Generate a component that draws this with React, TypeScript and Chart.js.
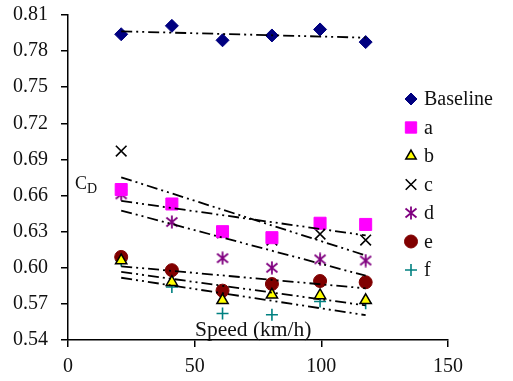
import React, { useEffect, useRef } from "react";
import { Chart, registerables } from "chart.js";
import { drawPoint } from "chart.js/helpers";

Chart.register(...registerables);

// ---- data ----
const speeds = [21, 41, 61, 80.5, 99.5, 117.5];
const baseline = [0.794, 0.801, 0.789, 0.793, 0.798, 0.7875];
const seriesA = [0.665, 0.653, 0.63, 0.625, 0.637, 0.636];
const seriesB = [0.606, 0.588, 0.573, 0.5775, 0.577, 0.573];
const seriesC = [0.697, 0.653, 0.629, 0.623, 0.628, 0.623];
const seriesD = [0.661, 0.638, 0.608, 0.6, 0.607, 0.606];
const seriesE = [0.609, 0.598, 0.581, 0.5865, 0.589, 0.588];
const seriesF = [0.606, 0.584, 0.562, 0.561, 0.572, 0.5705];
const seriesNames = ["Baseline", "a", "b", "c", "d", "e", "f"];
const xTickValues = [0, 50, 100, 150];
const yTickValues = [0.54, 0.57, 0.6, 0.63, 0.66, 0.69, 0.72, 0.75, 0.78, 0.81];
const yAxisLabel = "C";
const yAxisSub = "D";
const xAxisLabel = "Speed (km/h)";

const FONT = '"Liberation Serif", "Times New Roman", serif';

function makeAsterisk(color: string) {
  const c = document.createElement("canvas");
  c.width = 14;
  c.height = 14;
  const g = c.getContext("2d")!;
  g.strokeStyle = color;
  g.lineWidth = 1.8;
  g.beginPath();
  g.moveTo(7, 0.5);
  g.lineTo(7, 13.5);
  g.moveTo(1.5, 2.5);
  g.lineTo(12.5, 11.5);
  g.moveTo(12.5, 2.5);
  g.lineTo(1.5, 11.5);
  g.stroke();
  return c;
}

function fitLine(xs: number[], ys: number[]) {
  const n = xs.length;
  const mx = xs.reduce((s, v) => s + v, 0) / n;
  const my = ys.reduce((s, v) => s + v, 0) / n;
  let sxy = 0;
  let sxx = 0;
  for (let i = 0; i < n; i++) {
    sxy += (xs[i] - mx) * (ys[i] - my);
    sxx += (xs[i] - mx) * (xs[i] - mx);
  }
  const slope = sxy / sxx;
  const x0 = xs[0];
  const x1 = xs[n - 1];
  return [
    { x: x0, y: my + slope * (x0 - mx) },
    { x: x1, y: my + slope * (x1 - mx) },
  ];
}

const legendPlugin = {
  id: "customLegend",
  afterDraw(chart: any) {
    const ctx = chart.ctx;
    const items = chart.data.datasets.filter((d: any) => d.inLegend);
    const x0 = chart.chartArea.right - 37;
    items.forEach((ds: any, i: number) => {
      const y = 99 + i * 28.5;
      ctx.save();
      ctx.fillStyle = ds.pointBackgroundColor;
      ctx.strokeStyle = ds.pointBorderColor;
      ctx.lineWidth = ds.pointBorderWidth;
      drawPoint(
        ctx,
        {
          pointStyle: ds.pointStyle,
          rotation: 0,
          radius: ds.legendRadius,
          borderWidth: ds.pointBorderWidth,
        } as any,
        x0,
        y
      );
      ctx.fillStyle = "#111";
      ctx.font = `20px ${FONT}`;
      ctx.textBaseline = "middle";
      ctx.textAlign = "left";
      ctx.fillText(ds.label, x0 + 13, y + 1);
      ctx.restore();
    });
  },
};

const titlesPlugin = {
  id: "axisTitles",
  afterDraw(chart: any) {
    const ctx = chart.ctx;
    const { left, bottom } = chart.chartArea;
    ctx.save();
    ctx.fillStyle = "#111";
    ctx.textBaseline = "alphabetic";
    ctx.textAlign = "left";
    ctx.font = `18px ${FONT}`;
    ctx.fillText(yAxisLabel, left + 7, 189);
    const w = ctx.measureText(yAxisLabel).width;
    ctx.font = `14px ${FONT}`;
    ctx.fillText(yAxisSub, left + 7 + w, 193);
    ctx.font = `21.5px ${FONT}`;
    ctx.fillText(xAxisLabel, left + 127, bottom - 4);
    ctx.restore();
  },
};

export default function App() {
  const ref = useRef<HTMLCanvasElement | null>(null);

  useEffect(() => {
    if (!ref.current) return;
    const asterisk = makeAsterisk("#800080");
    const allSeries = [baseline, seriesA, seriesB, seriesC, seriesD, seriesE, seriesF];
    const styles = [
      { pointStyle: "rectRot", bg: "#000080", border: "#000080", bw: 1, r: 6.5, lr: 6 },
      { pointStyle: "rect", bg: "#FF00FF", border: "#FF00FF", bw: 1, r: 8.5, lr: 8 },
      { pointStyle: "triangle", bg: "#FFFF00", border: "#000000", bw: 1.5, r: 6.5, lr: 6 },
      { pointStyle: "crossRot", bg: "#000000", border: "#000000", bw: 1.6, r: 7.5, lr: 7.5 },
      { pointStyle: asterisk, bg: "#800080", border: "#800080", bw: 1.6, r: 7, lr: 7 },
      { pointStyle: "circle", bg: "#800000", border: "#800000", bw: 1, r: 6.5, lr: 6.5 },
      { pointStyle: "cross", bg: "#008080", border: "#008080", bw: 1.6, r: 6, lr: 6 },
    ];

    const trendSets = allSeries.map((ys) => ({
      type: "line" as const,
      label: "",
      data: fitLine(speeds, ys),
      borderColor: "#000",
      borderWidth: 1.8,
      borderDash: [11, 4, 2, 4, 2, 4],
      pointRadius: 0,
      fill: false,
      inLegend: false,
      order: 1,
    }));

    const pointSets = allSeries.map((ys, i) => ({
      type: "scatter" as const,
      label: seriesNames[i],
      data: speeds.map((x, j) => ({ x, y: ys[j] })),
      pointStyle: styles[i].pointStyle as any,
      pointBackgroundColor: styles[i].bg,
      pointBorderColor: styles[i].border,
      pointBorderWidth: styles[i].bw,
      pointRadius: styles[i].r,
      legendRadius: styles[i].lr,
      showLine: false,
      inLegend: true,
      order: 2,
    }));

    const chart = new Chart(ref.current, {
      type: "scatter",
      data: { datasets: [...pointSets, ...trendSets] as any },
      options: {
        animation: false,
        responsive: true,
        maintainAspectRatio: false,
        layout: { padding: { top: 15, right: 65, left: 0, bottom: 0 } },
        plugins: {
          legend: { display: false },
          tooltip: { enabled: false },
        },
        scales: {
          x: {
            type: "linear",
            min: 0,
            max: 150,
            afterBuildTicks: (s: any) => {
              s.ticks = xTickValues.map((v) => ({ value: v }));
            },
            afterFit: (s: any) => {
              s.height = 41;
              s.paddingLeft = 0;
              s.paddingRight = 0;
            },
            grid: {
              display: true,
              drawOnChartArea: false,
              drawTicks: true,
              tickLength: 7,
              color: "#000",
              lineWidth: 1.5,
            },
            border: { display: true, color: "#000", width: 1.5 },
            ticks: {
              color: "#111",
              font: { family: FONT, size: 20 },
              padding: 8,
              maxRotation: 0,
              callback: (v: any) => String(v),
            },
          },
          y: {
            type: "linear",
            min: 0.54,
            max: 0.81,
            afterBuildTicks: (s: any) => {
              s.ticks = yTickValues.map((v) => ({ value: v }));
            },
            afterFit: (s: any) => {
              s.width = 68;
              s.paddingTop = 0;
              s.paddingBottom = 0;
            },
            grid: {
              display: true,
              drawOnChartArea: false,
              drawTicks: true,
              tickLength: 7,
              color: "#000",
              lineWidth: 1.5,
            },
            border: { display: true, color: "#000", width: 1.5 },
            ticks: {
              color: "#111",
              font: { family: FONT, size: 20 },
              padding: 13,
              callback: (v: any) => Number(v).toFixed(2),
            },
          },
        },
      },
      plugins: [legendPlugin, titlesPlugin],
    });
    return () => chart.destroy();
  }, []);

  return (
    <div style={{ position: "fixed", left: 0, top: 0, width: 513, height: 381, background: "#fff" }}>
      <canvas ref={ref} />
    </div>
  );
}
